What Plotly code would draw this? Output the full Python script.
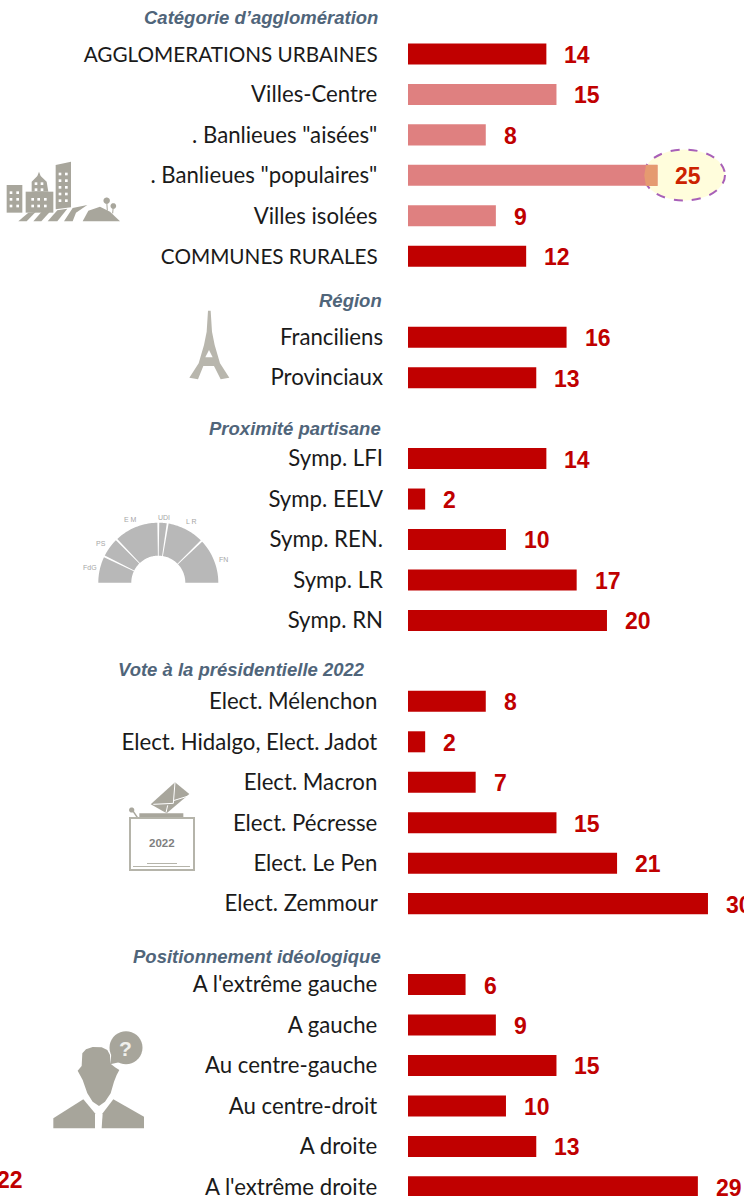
import math
import plotly.graph_objects as go

NB = "\u00a0"
W, H = 744, 1196

# Rows, top to bottom. Blank rows hold the section headings.
categories = [
    " ",
    "AGGLOMERATIONS URBAINES", "Villes-Centre", '. Banlieues "aisées"',
    '. Banlieues "populaires"', "Villes isolées", "COMMUNES RURALES",
    "  ",
    "Franciliens", "Provinciaux",
    "   ",
    "Symp. LFI", "Symp. EELV", "Symp. REN.", "Symp. LR", "Symp. RN",
    "    ",
    "Elect. Mélenchon", "Elect. Hidalgo, Elect. Jadot", "Elect. Macron",
    "Elect. Pécresse", "Elect. Le Pen", "Elect. Zemmour",
    "     ",
    "A l'extrême gauche", "A gauche", "Au centre-gauche", "Au centre-droit",
    "A droite", "A l'extrême droite",
]
values = [
    None, 14, 15, 8, 25, 9, 12,
    None, 16, 13,
    None, 14, 2, 10, 17, 20,
    None, 8, 2, 7, 15, 21, 30,
    None, 6, 9, 15, 10, 13, 29,
]
light_rows = ["Villes-Centre", '. Banlieues "aisées"', '. Banlieues "populaires"', "Villes isolées"]
wider_rows = ["Franciliens", "Provinciaux", "Symp. LFI", "Symp. EELV", "Symp. REN.", "Symp. LR", "Symp. RN"]
caps_rows = ["AGGLOMERATIONS URBAINES", "COMMUNES RURALES"]
headings = [
    ("Catégorie d’agglomération", 378, 17),
    ("Région", 382, 300),
    ("Proximité partisane", 381, 428),
    ("Vote à la présidentielle 2022", 365, 669),
    ("Positionnement idéologique", 381, 956),
]
stray_label = "22"

DARK, LIGHT, GREY = "#C00000", "#DF8080", "#A8A69C"

def px(x): return x / W
def py(y): return 1 - y / H

def poly(points):
    return "M" + " L".join(f"{px(x):.5f},{py(y):.5f}" for x, y in points) + " Z"

def zpoly(pts, ox, oy, s=3):
    return [(ox + a / s, oy + b / s) for a, b in pts]

shapes = []
def fill(points, color=GREY, layer="below"):
    shapes.append(dict(type="path", xref="paper", yref="paper", path=poly(points),
                       fillcolor=color, line=dict(width=0), layer=layer))

def box(x0, y0, x1, y1, color=GREY):
    fill([(x0, y0), (x1, y0), (x1, y1), (x0, y1)], color)

def circ(cx, cy, r, color=GREY):
    fill([(cx + r * math.cos(t * math.pi / 18), cy + r * math.sin(t * math.pi / 18)) for t in range(36)], color)

def seg(x0, y0, x1, y1, color, width):
    shapes.append(dict(type="line", xref="paper", yref="paper", x0=px(x0), y0=py(y0), x1=px(x1), y1=py(y1),
                       line=dict(color=color, width=width), layer="below"))

# --- city icon
O = (0, 150)
def zbox(a, b, c, d, color=GREY):
    box(O[0] + a / 3, O[1] + b / 3, O[0] + c / 3, O[1] + d / 3, color)

zbox(20, 105, 67, 188)
zbox(77, 125, 160, 188)
fill(zpoly([(95, 125), (95, 95), (112, 78), (117, 65), (122, 78), (140, 95), (145, 125)], *O))
fill(zpoly([(167, 45), (213, 35), (213, 172), (167, 178)], *O))
for cx in (33, 53):
    for cy in (128, 148, 168):
        zbox(cx - 4, cy - 4, cx + 4, cy + 4, "white")
for cx in (98, 116, 136):
    for cy in (148, 168):
        zbox(cx - 4, cy - 4, cx + 4, cy + 4, "white")
for cx in (108, 126):
    for cy in (101, 119):
        zbox(cx - 4, cy - 4, cx + 4, cy + 4, "white")
for cx in (180, 199):
    for cy in (72, 92, 112, 132, 152):
        zbox(cx - 4, cy - 4, cx + 4, cy + 4, "white")
for s in ([(55, 214), (85, 188), (107, 186), (80, 214)],
          [(100, 214), (125, 185), (152, 183), (124, 214)],
          [(143, 214), (172, 181), (202, 176), (172, 214)],
          [(192, 214), (218, 174), (262, 165), (228, 188), (218, 214)],
          [(248, 214), (265, 182), (300, 170), (330, 185), (360, 214)]):
    fill(zpoly(s, *O))
circ(0 + 320 / 3, 150 + 152 / 3, 3.2)
circ(0 + 340 / 3, 150 + 168 / 3, 2.8)
seg(320 / 3, 150 + 152 / 3, 322 / 3, 150 + 182 / 3, GREY, 1)
seg(340 / 3, 150 + 168 / 3, 338 / 3, 150 + 190 / 3, GREY, 1)

# --- Eiffel tower
O = (170, 300)
fill(zpoly([(114, 32), (122, 32), (126, 95), (134, 135), (150, 190), (178, 233), (152, 238),
            (132, 198), (100, 198), (84, 238), (58, 233), (86, 190), (102, 135), (110, 95)], *O), "#B8B6AD")
fill(zpoly([(117, 150), (128, 172), (106, 172)], *O), "white")

# --- hemicycle icon
cx0, cy0, R, r = 158.3, 582.7, 60, 27
segments = [(180, 154), (154, 134), (134, 90), (90, 81), (81, 44), (44, 0)]
for a, b in segments:
    a1, b1 = a - 0.9 if a != 180 else a, b + 0.9 if b != 0 else b
    n = 24
    outer = [(cx0 + R * math.cos(math.radians(a1 + (b1 - a1) * i / n)),
              cy0 - R * math.sin(math.radians(a1 + (b1 - a1) * i / n))) for i in range(n + 1)]
    inner = [(cx0 + r * math.cos(math.radians(b1 + (a1 - b1) * i / n)),
              cy0 - r * math.sin(math.radians(b1 + (a1 - b1) * i / n))) for i in range(n + 1)]
    fill(outer + inner, "#B8B8B8")

# --- ballot icon
O = (110, 770)
c = "#B5B4AA"
fill(zpoly([(195, 37), (238, 72), (170, 130), (122, 103)], *O), GREY)
seg(110 + 130 / 3, 770 + 103 / 3, 110 + 190 / 3, 770 + 100 / 3, "white", 1)
seg(110 + 195 / 3, 770 + 37 / 3, 110 + 190 / 3, 770 + 100 / 3, "white", 1)
seg(110 + 190 / 3, 770 + 92 / 3, 110 + 235 / 3, 770 + 78 / 3, "white", 1)
seg(110 + 173 / 3, 770 + 106 / 3, 110 + 168 / 3, 770 + 128 / 3, "white", 1)
fill(zpoly([(88, 130), (220, 130), (220, 143), (88, 143)], *O), GREY)
circ(110 + 65 / 3, 770 + 120 / 3, 2.6)
seg(110 + 68 / 3, 770 + 122 / 3, 110 + 82 / 3, 770 + 142 / 3, GREY, 1.5)
shapes.append(dict(type="rect", xref="paper", yref="paper", x0=px(130), x1=px(194), y0=py(818), y1=py(870),
                   line=dict(color=c, width=2), fillcolor="white", layer="below"))
seg(147, 863.5, 177, 863.5, c, 1)
seg(133, 866.5, 190, 866.5, c, 1)

# --- person icon
O = (0, 1020)
PERSON = "#A7A59B"
fill(zpoly([(247, 100), (258, 88), (278, 81), (305, 82), (322, 90), (330, 105), (330, 130), (345, 142),
            (358, 150), (350, 165), (342, 185), (332, 220), (315, 245), (297, 258), (278, 245),
            (262, 220), (248, 180), (233, 152), (245, 138)], *O), PERSON)
fill(zpoly([(160, 295), (250, 238), (285, 280), (285, 325), (160, 325)], *O), PERSON)
fill(zpoly([(340, 238), (432, 290), (432, 325), (305, 325), (308, 280)], *O), PERSON)
circ(378 / 3, 1020 + 83 / 3, 16.5, PERSON)
fill(zpoly([(330, 133), (335, 95), (365, 125)], *O), PERSON)

# --- highlight around the 25 value
shapes.append(dict(type="circle", xref="paper", yref="paper", x0=px(643.5), x1=px(725), y0=py(149.5), y1=py(200.5),
                   fillcolor="#FFFDDC", line=dict(color="#A860B8", width=2, dash="dash"), layer="below"))
fill([(657.5, 165), (657.5, 186), (646, 186), (644.3, 175.5), (646, 165)], "#E59A70", layer="above")

# --- figure
labels = [name + (NB if name.strip() and name not in wider_rows else "") for name in categories]
colors = [LIGHT if n in light_rows else DARK for n in categories]
ticktext = [f'<span style="font-size:20.7px">{lab}</span>' if name in caps_rows else lab
            for name, lab in zip(categories, labels)]

fig = go.Figure(go.Bar(
    y=labels, x=values, orientation="h", width=0.52,
    marker=dict(color=colors, line=dict(width=0)), hoverinfo="skip",
))

annotations = []
for name, v in zip(labels, values):
    if v is None:
        continue
    annotations.append(dict(x=v, y=name, xref="x", yref="y", text=f"<b>{v}</b>", showarrow=False,
                            xanchor="left", yanchor="middle", xshift=16, yshift=-1,
                            font=dict(family="Liberation Sans", size=23,
                                      color="#CC2200" if v == 25 else DARK)))
for text, right, y in headings:
    annotations.append(dict(x=px(right), y=py(y), xref="paper", yref="paper", text=f"<b><i>{text}</i></b>",
                            showarrow=False, xanchor="right", yanchor="middle", xshift=2,
                            font=dict(family="Liberation Sans", size=18.5, color="#50657A")))

def note(text, x, y, size, color):
    annotations.append(dict(x=px(x), y=py(y), xref="paper", yref="paper", text=text, showarrow=False,
                            xanchor="center", yanchor="middle",
                            font=dict(family="Liberation Sans", size=size, color=color)))

note(f"<b>{stray_label}</b>", 10, 1180, 23, DARK)
for t, x, y in [("FdG", 90, 567), ("PS", 101, 543), ("E M", 130, 520), ("UDI", 164, 517), ("L R", 191, 521), ("FN", 223, 559)]:
    note(t, x, y, 7, "#A6A6A6")
note("<b>2022</b>", 161.5, 842.5, 11.5, "#7F7F7F")
note("<b>?</b>", 125.5, 1048, 21, "#F0F0EC")

fig.update_layout(
    width=W, height=H, margin=dict(l=0, r=0, t=0, b=0),
    paper_bgcolor="white", plot_bgcolor="rgba(0,0,0,0)", showlegend=False,
    xaxis=dict(domain=[408 / W, 1], range=[0.3, 33.567], visible=False, fixedrange=True),
    yaxis=dict(type="category", categoryorder="array", categoryarray=labels, range=[29.226, -0.334],
               showgrid=False, showline=False, zeroline=False, ticks="", ticklabelstandoff=24, automargin=False,
               tickmode="array", tickvals=labels, ticktext=ticktext,
               tickfont=dict(family="Lato", size=22.2, color="#1A1A1A"), fixedrange=True),
    shapes=shapes, annotations=annotations,
)
fig.write_html("out.html", config=dict(displayModeBar=False),
               post_script="document.body.style.margin='0';document.documentElement.style.overflow='hidden';")
